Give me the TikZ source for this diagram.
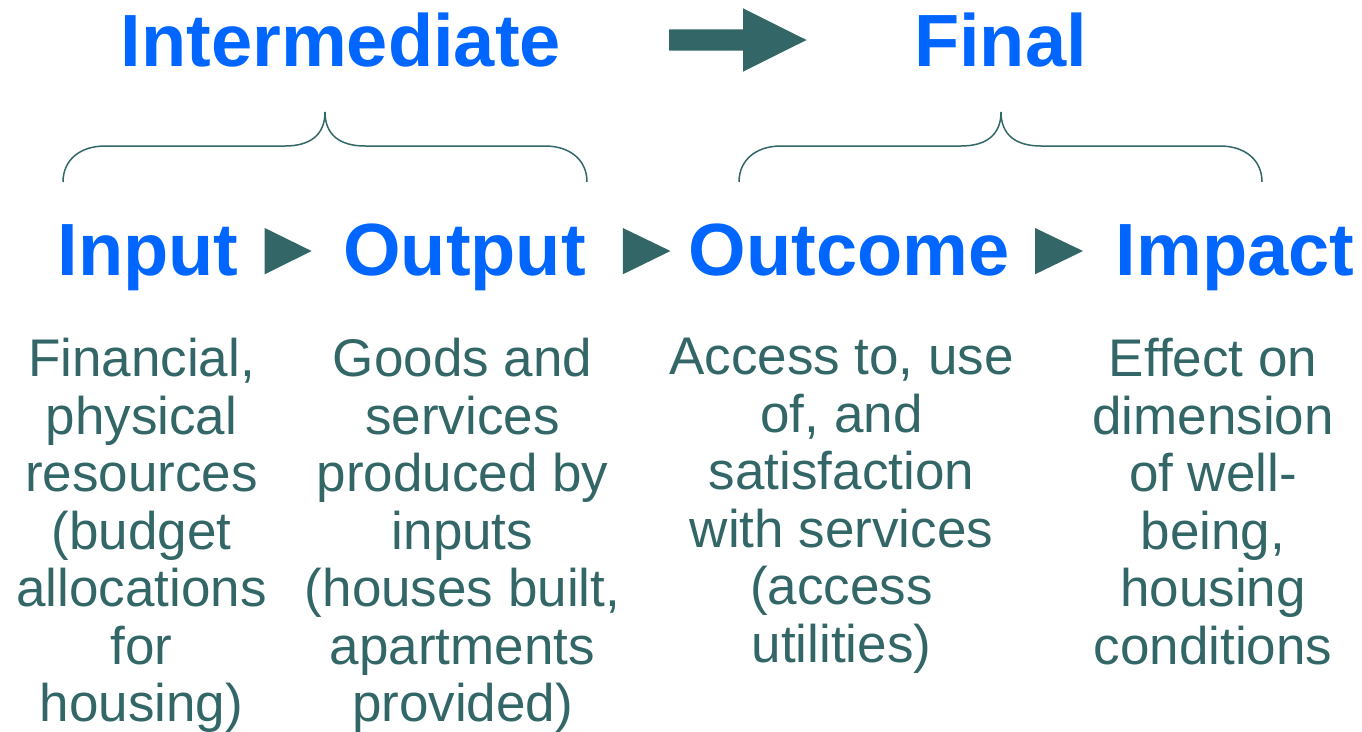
\documentclass[tikz,border=0pt]{standalone}
\usepackage{fontspec}
\setmainfont{Liberation Sans}
\usepackage{tikz}
\usetikzlibrary{positioning, calc}
\usepackage{xcolor}
\definecolor{headblue}{HTML}{0066FF}
\definecolor{darkteal}{HTML}{336666}

\tikzset{
  stage/.style={anchor=base, inner sep=0pt, color=headblue, font=\fontsize{74}{80}\selectfont\bfseries},
  desc/.style={anchor=north, inner sep=0pt, align=center, color=darkteal, font=\fontsize{53}{57.5}\selectfont},
  tri/.style={fill=darkteal},
  bracket/.style={draw=darkteal, line width=1.5pt}
}

\begin{document}
\begin{tikzpicture}[x=1pt, y=-1pt] % 1 unit = 1 pixel of the reference
\useasboundingbox (0,0) rectangle (1362,731);

\node[stage] (inter) at (340.8,66) {Intermediate};
\node[stage] (final) at (1000.5,66) {Final};
\fill[tri] (669,29.3) -- (743,29.3) -- (743,8.3) -- (806.5,40) -- (743,71.7) -- (743,50.7) -- (669,50.7) -- cycle;

\draw[bracket] (63,182) .. controls (63,160) and (80,146) .. (105,146) -- (285,146)
  .. controls (310,146) and (325,135) .. (325,112) .. controls (325,135) and (340,146) .. (365,146)
  -- (545,146) .. controls (570,146) and (587,160) .. (587,182);
\draw[bracket] (739,182) .. controls (739,160) and (756,146) .. (781,146) -- (961,146)
  .. controls (986,146) and (1001,135) .. (1001,112) .. controls (1001,135) and (1016,146) .. (1041,146)
  -- (1220,146) .. controls (1245,146) and (1262,160) .. (1262,182);

\node[stage] (input) at (148,275) {Input};
\node[stage] (output) at (464.5,275) {Output};
\node[stage] (outcome) at (849,275) {Outcome};
\node[stage] (impact) at (1235,275) {Impact};
\fill[tri] (264.7,228) -- (311.6,251) -- (264.7,274.3) -- cycle;
\fill[tri] (622.8,228) -- (670.5,251) -- (622.8,274.3) -- cycle;
\fill[tri] (1035,228) -- (1083,251) -- (1035,274.3) -- cycle;

\node[desc] (inputtxt) at (141.5,338) {Financial,\\physical\\resources\\(budget\\allocations\\for\\housing)};
\node[desc] (outputtxt) at (462.5,338) {Goods and\\services\\produced by\\inputs\\(houses built,\\apartments\\provided)};
\node[desc] (outcometxt) at (841.5,338) {Access to, use\\of, and\\satisfaction\\with services\\(access\\utilities)};
\node[desc] (impacttxt) at (1213,338) {Effect on\\dimension\\of well-\\being,\\housing\\conditions};

\end{tikzpicture}
\end{document}
